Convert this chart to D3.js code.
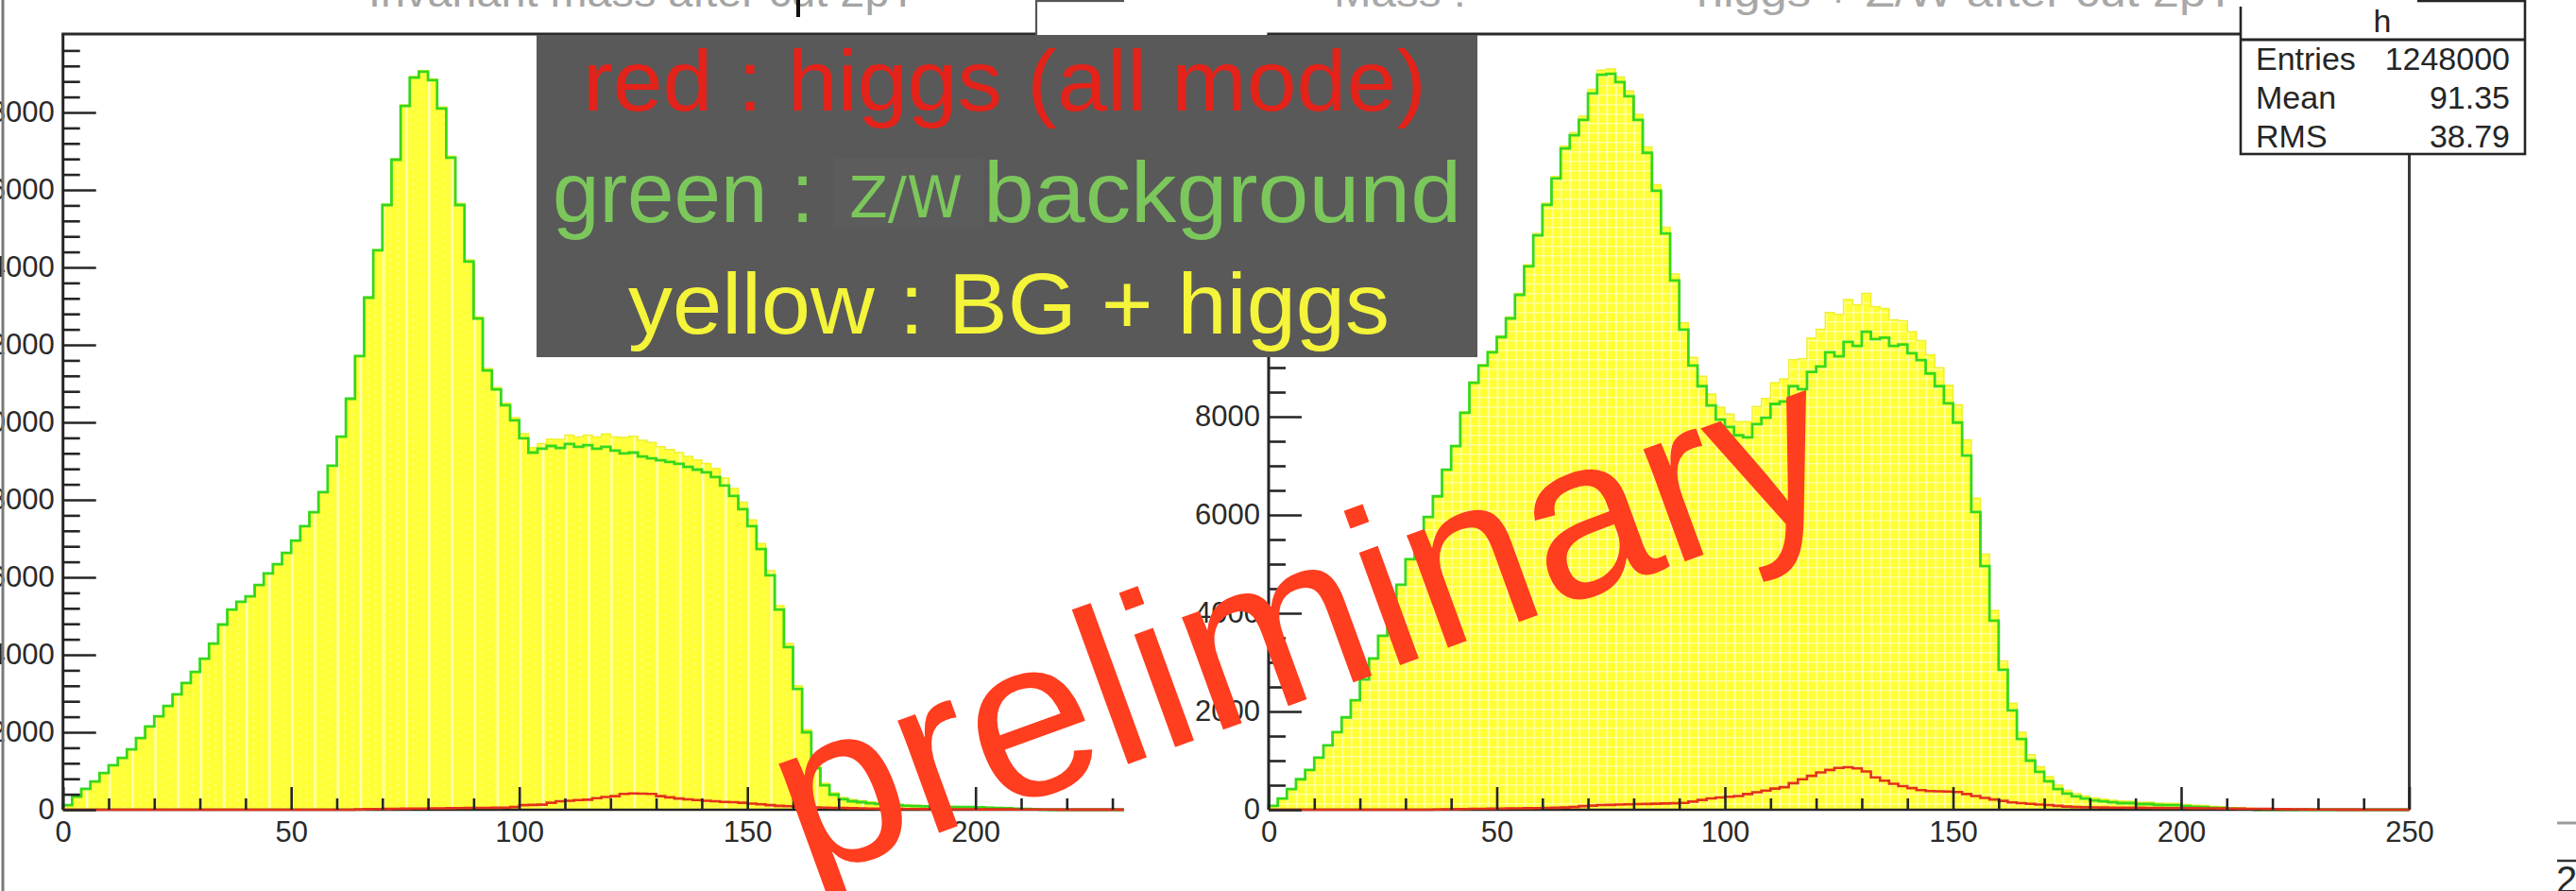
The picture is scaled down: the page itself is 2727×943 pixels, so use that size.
<!DOCTYPE html>
<html>
<head>
<meta charset="utf-8">
<script src="https://cdn.jsdelivr.net/npm/d3@7"></script>
<style>
  html, body { margin: 0; padding: 0; background: #fff; overflow: hidden; }
  svg { display: block; }
</style>
</head>
<body>
<svg id="chart" width="2727" height="943"></svg>
<script>
// ---- histogram contents: counts per 2-unit bin, bins start at 0 ----
const binWidth = 2;

// left pad: Z/W background and higgs (all modes)
const leftBackground = [
  120, 340, 540, 730, 950, 1150, 1340, 1560, 1850, 2150,
  2410, 2680, 2980, 3270, 3560, 3900, 4290, 4780, 5170, 5370,
  5510, 5800, 6100, 6340, 6630, 6950, 7320, 7680, 8200, 8880,
  9630, 10610, 11710, 13220, 14440, 15610, 16780, 18170, 18900, 19050,
  18830, 18100, 16830, 15610, 14150, 12680, 11340, 10850, 10440, 10050,
  9590, 9220, 9320, 9390, 9340, 9440, 9370, 9410, 9320, 9370,
  9270, 9200, 9220, 9120, 9070, 9020, 8980, 8930, 8850, 8780,
  8710, 8590, 8370, 8100, 7760, 7320, 6730, 6050, 5170, 4200,
  3120, 2000, 1070, 630, 390, 270, 220, 195, 170, 150,
  145, 120, 100, 95, 90, 75, 72, 70, 68, 70,
  66, 50, 45, 42, 25, 20, 10, 5, 0, 0,
  0, 0, 0, 0, 0, 0, 0, 0, 0, 0,
  0, 0, 0, 0, 0
];
const leftHiggs = [
  0, 0, 0, 0, 0, 0, 0, 0, 0, 0,
  0, 0, 0, 0, 0, 0, 0, 0, 0, 0,
  0, 0, 0, 0, 0, 0, 0, 0, 0, 0,
  0, 0, 10, 15, 20, 22, 25, 28, 30, 32,
  35, 38, 40, 42, 45, 48, 50, 52, 55, 70,
  120, 125, 130, 180, 220, 230, 250, 260, 300, 330,
  350, 410, 420, 415, 410, 350, 320, 290, 270, 250,
  230, 220, 200, 195, 180, 160, 140, 120, 100, 90,
  80, 70, 60, 55, 50, 45, 40, 35, 30, 28,
  25, 22, 20, 18, 16, 15, 14, 13, 12, 11,
  10, 9, 8, 8, 7, 6, 6, 5, 5, 4,
  4, 3, 3, 2, 2, 2, 1, 1, 1, 1,
  1, 1, 0, 0, 0
];

// right pad: Z/W background and higgs (all modes)
const rightBackground = [
  80, 230, 420, 620, 810, 1060, 1310, 1580, 1880, 2230,
  2650, 3080, 3540, 4040, 4580, 5100, 5540, 5960, 6380, 6920,
  7400, 8080, 8690, 9040, 9310, 9620, 10000, 10480, 11060, 11690,
  12310, 12850, 13460, 13730, 14040, 14580, 14960, 14980, 14810, 14520,
  14040, 13370, 12600, 11730, 10770, 9770, 9040, 8620, 8230, 7940,
  7790, 7620, 7580, 7850, 7980, 8260, 8310, 8620, 8560, 8910,
  9020, 9310, 9230, 9520, 9440, 9730, 9580, 9610, 9440, 9470,
  9290, 9150, 8880, 8620, 8270, 7880, 7210, 6060, 4960, 3850,
  2850, 2020, 1440, 1000, 770, 580, 420, 330, 270, 230,
  190, 170, 150, 135, 135, 115, 115, 100, 95, 95,
  75, 60, 55, 40, 35, 20, 15, 10, 0, 0,
  0, 0, 0, 0, 0, 0, 0, 0, 0, 0,
  0, 0, 0, 0, 0
];
const rightHiggs = [
  0, 0, 0, 0, 0, 0, 0, 0, 0, 0,
  0, 0, 0, 0, 0, 0, 0, 0, 5, 10,
  12, 15, 18, 20, 22, 25, 28, 30, 32, 35,
  38, 40, 45, 55, 75, 85, 95, 98, 105, 110,
  115, 118, 122, 128, 132, 140, 165, 200, 230, 250,
  265, 280, 320, 355, 390, 430, 460, 540, 620, 690,
  760, 810, 850, 865, 840, 780, 660, 590, 530, 480,
  440, 400, 380, 375, 370, 360, 320, 280, 240, 210,
  180, 150, 135, 120, 105, 95, 80, 65, 55, 50,
  48, 45, 44, 42, 40, 40, 38, 36, 35, 34,
  33, 32, 30, 28, 26, 24, 22, 20, 18, 16,
  14, 12, 10, 8, 6, 5, 4, 3, 2, 2,
  1, 1, 1, 0, 0
];

// ---- axis ticks and labels ----
const xMajorTicks = [0, 50, 100, 150, 200, 250];
const xMinorTicks = [10, 20, 30, 40, 60, 70, 80, 90, 110, 120, 130, 140, 160, 170, 180, 190, 210, 220, 230, 240];
const leftYMajorTicks = [0, 2000, 4000, 6000, 8000, 10000, 12000, 14000, 16000, 18000];
const rightYMajorTicks = [0, 2000, 4000, 6000, 8000, 10000, 12000, 14000];

const legendLines = [
  { text: "red : higgs (all mode)", color: "#e3231a" },
  { text: "green :", color: "#7cc75b" },
  { text: "Z/W", color: "#7cc75b" },
  { text: "background", color: "#7cc75b" },
  { text: "yellow : BG + higgs", color: "#f4f43a" }
];
const statsName = "h";
const statsRows = [["Entries", "1248000"], ["Mean", "91.35"], ["RMS", "38.79"]];
const watermark = "preliminary";

// ---- drawing ----
const FONT = "'Liberation Sans', Arial, Helvetica, sans-serif";
const INK = "#252525";
const svg = d3.select("#chart");
svg.append("rect").attr("width", 2727).attr("height", 943).attr("fill", "#fff");

const defs = svg.append("defs");
// ROOT-like yellow fill textures
const pL = defs.append("pattern").attr("id", "fillLeft").attr("patternUnits", "userSpaceOnUse")
  .attr("x", 66.7).attr("y", 0).attr("width", 24.15).attr("height", 8);
pL.append("rect").attr("width", 24.15).attr("height", 8).attr("fill", "#ffff38");
pL.append("rect").attr("x", 0).attr("width", 2.6).attr("height", 8).attr("fill", "#ffffb4");
pL.append("rect").attr("x", 8).attr("y", 2).attr("width", 1.6).attr("height", 1.6).attr("fill", "#ffff96");
pL.append("rect").attr("x", 16).attr("y", 6).attr("width", 1.6).attr("height", 1.6).attr("fill", "#ffff96");

const pR = defs.append("pattern").attr("id", "fillRight").attr("patternUnits", "userSpaceOnUse")
  .attr("x", 1343).attr("y", 0).attr("width", 9.66).attr("height", 10);
pR.append("rect").attr("width", 9.66).attr("height", 10).attr("fill", "#ffff34");
pR.append("rect").attr("x", 0).attr("width", 1.7).attr("height", 10).attr("fill", "#ffffa6");
pR.append("rect").attr("y", 0).attr("width", 9.66).attr("height", 1.5).attr("fill", "#ffff9c");

function stepPoints(vals) {
  const pts = [[0, 0]];
  vals.forEach((v, i) => pts.push([i * binWidth, v]));
  const end = vals.length * binWidth;
  pts.push([end, vals[vals.length - 1]]);
  pts.push([end, 0]);
  return pts;
}

function drawPad(g, opt) {
  const { x, y, bg, higgs, fillId, yMajor, yMinor, frameRight, topY } = opt;
  const total = bg.map((v, i) => v + (higgs[i] || 0));

  const area = d3.area().curve(d3.curveStepAfter)
    .x(d => x(d[0])).y0(y(0)).y1(d => y(d[1]));
  const line = d3.line().curve(d3.curveStepAfter)
    .x(d => x(d[0])).y(d => y(d[1]));

  g.append("path").attr("d", area(stepPoints(total))).attr("fill", `url(#${fillId})`);
  g.append("path").attr("d", line(stepPoints(total))).attr("fill", "none")
    .attr("stroke", "#f0f030").attr("stroke-width", 1.5);
  g.append("path").attr("d", line(stepPoints(bg))).attr("fill", "none")
    .attr("stroke", "#36d81c").attr("stroke-width", 2.8).attr("stroke-linejoin", "miter");

  // axis base lines and frame
  g.append("line").attr("x1", x(0)).attr("x2", x(250)).attr("y1", y(0)).attr("y2", y(0))
    .attr("stroke", INK).attr("stroke-width", 2.5);
  g.append("line").attr("x1", x(0)).attr("x2", x(0)).attr("y1", topY).attr("y2", y(0))
    .attr("stroke", INK).attr("stroke-width", 3);
  g.append("line").attr("x1", x(0) - 1.5).attr("x2", frameRight).attr("y1", topY).attr("y2", topY)
    .attr("stroke", "#2a2a2a").attr("stroke-width", 3);
  if (opt.drawRight) {
    g.append("line").attr("x1", x(250)).attr("x2", x(250)).attr("y1", topY).attr("y2", y(0))
      .attr("stroke", "#3a3a3a").attr("stroke-width", 3);
  }

  g.append("path").attr("d", line(stepPoints(higgs))).attr("fill", "none")
    .attr("stroke", "#e3321a").attr("stroke-width", 2.6);

  const styleAxis = sel => {
    sel.select(".domain").remove();
    sel.selectAll(".tick line").attr("stroke", INK).attr("stroke-width", 2.6);
    sel.selectAll(".tick text").attr("fill", "#2a2a2a").attr("font-size", 31).attr("font-family", FONT);
  };

  g.append("g").attr("transform", `translate(0,${y(0)})`)
    .call(d3.axisBottom(x).tickValues(xMinorTicks).tickSize(-12).tickSizeOuter(0).tickFormat(""))
    .call(styleAxis);
  g.append("g").attr("transform", `translate(0,${y(0)})`)
    .call(d3.axisBottom(x).tickValues(xMajorTicks).tickSize(-24).tickSizeOuter(0).tickPadding(12).tickFormat(d3.format("d")))
    .call(styleAxis);
  g.append("g").attr("transform", `translate(${x(0)},0)`)
    .call(d3.axisLeft(y).tickValues(yMinor).tickSize(-18).tickSizeOuter(0).tickFormat(""))
    .call(styleAxis);
  g.append("g").attr("transform", `translate(${x(0)},0)`)
    .call(d3.axisLeft(y).tickValues(yMajor).tickSize(-35).tickSizeOuter(0).tickPadding(9).tickFormat(d3.format("d")))
    .call(styleAxis);
}

// ---- left pad ----
const left = svg.append("g");
left.append("text").attr("x", 390).attr("y", 7).attr("textLength", 580)
  .attr("lengthAdjust", "spacingAndGlyphs")
  .attr("font-family", FONT).attr("font-size", 44).attr("fill", "#a4a4a4")
  .text("Invariant mass after cut 2pT");
// shadow edge of the title box
left.append("line").attr("x1", 845).attr("x2", 845).attr("y1", 0).attr("y2", 18)
  .attr("stroke", "#111").attr("stroke-width", 4);
const xL = d3.scaleLinear().domain([0, 250]).range([66.7, 66.7 + 250 * 4.83]);
const yL = d3.scaleLinear().domain([0, 20000]).range([857, 37]);
drawPad(left, {
  x: xL, y: yL, bg: leftBackground, higgs: leftHiggs, fillId: "fillLeft",
  yMajor: leftYMajorTicks,
  yMinor: d3.range(400, 20000, 400).filter(v => v % 2000),
  frameRight: 1190, topY: 36, drawRight: false
});
// left stats box corner peeking above the frame
left.append("rect").attr("x", 1097).attr("y", 1).attr("width", 200).attr("height", 160)
  .attr("fill", "#fff").attr("stroke", "#555").attr("stroke-width", 2.2);
// neighbouring pad edge on the far left
left.append("line").attr("x1", 3).attr("x2", 3).attr("y1", 0).attr("y2", 943)
  .attr("stroke", "#7a7a7a").attr("stroke-width", 3);

// ---- right pad ----
const right = svg.append("g");
right.append("rect").attr("x", 1190).attr("y", 0).attr("width", 2727 - 1190).attr("height", 943).attr("fill", "#fff");
const xR = d3.scaleLinear().domain([0, 250]).range([1343, 1343 + 250 * 4.83]);
const yR = d3.scaleLinear().domain([0, 15800]).range([857, 857 - 15800 * 0.052]);
drawPad(right, {
  x: xR, y: yR, bg: rightBackground, higgs: rightHiggs, fillId: "fillRight",
  yMajor: rightYMajorTicks,
  yMinor: d3.range(500, 15800, 500).filter(v => v % 2000),
  frameRight: xR(250), topY: 36, drawRight: true
});

// stats box
const sb = right.append("g");
sb.append("rect").attr("x", 2372).attr("y", 1).attr("width", 301).attr("height", 162)
  .attr("fill", "#fff").attr("stroke", INK).attr("stroke-width", 2.6);
sb.append("line").attr("x1", 2372).attr("x2", 2673).attr("y1", 42).attr("y2", 42)
  .attr("stroke", INK).attr("stroke-width", 3.2);
sb.append("text").attr("x", 2522).attr("y", 34).attr("text-anchor", "middle")
  .attr("font-family", FONT).attr("font-size", 34).attr("fill", INK).text(statsName);
statsRows.forEach((r, i) => {
  const yy = 74 + i * 41;
  sb.append("text").attr("x", 2388).attr("y", yy).attr("font-family", FONT)
    .attr("font-size", 34).attr("fill", INK).text(r[0]);
  sb.append("text").attr("x", 2657).attr("y", yy).attr("text-anchor", "end").attr("font-family", FONT)
    .attr("font-size", 34).attr("fill", INK).text(r[1]);
});
// title strip along the top edge
right.append("rect").attr("x", 1400).attr("y", -2).attr("width", 1159).attr("height", 9).attr("fill", "#fff");
right.append("text").attr("x", 1412).attr("y", 7).attr("textLength", 140).attr("lengthAdjust", "spacingAndGlyphs")
  .attr("font-family", FONT).attr("font-size", 44).attr("fill", "#a8a8a8").text("Mass :");
right.append("text").attr("x", 1796).attr("y", 7).attr("textLength", 570).attr("lengthAdjust", "spacingAndGlyphs")
  .attr("font-family", FONT).attr("font-size", 44).attr("fill", "#a8a8a8").text("higgs + Z/W after cut 2pT");

// fragment of the next pad on the far right
right.append("line").attr("x1", 2707).attr("x2", 2727).attr("y1", 871).attr("y2", 871)
  .attr("stroke", "#9a9a9a").attr("stroke-width", 3);
right.append("line").attr("x1", 2707).attr("x2", 2727).attr("y1", 911).attr("y2", 911)
  .attr("stroke", "#333").attr("stroke-width", 2.5);
right.append("text").attr("x", 2706).attr("y", 945).attr("font-family", FONT)
  .attr("font-size", 40).attr("fill", "#2a2a2a").text("2");

// ---- legend box ----
const lg = svg.append("g");
lg.append("rect").attr("x", 568).attr("y", 37).attr("width", 996).attr("height", 341).attr("fill", "#595959");
lg.append("rect").attr("x", 882).attr("y", 168).attr("width", 159).attr("height", 74).attr("fill", "#5c5c5c");
const legendLayout = [
  { x: 617, y: 117, w: 893, size: 90 },
  { x: 585, y: 235, w: 277, size: 90 },
  { x: 899, y: 230, w: 120, size: 60, narrow: true },
  { x: 1041, y: 235, w: 506, size: 90 },
  { x: 665, y: 353, w: 806, size: 90 }
];
legendLines.forEach((d, i) => {
  const L = legendLayout[i];
  lg.append("text").attr("x", L.x).attr("y", L.y)
    .attr("textLength", L.w).attr("lengthAdjust", "spacingAndGlyphs")
    .attr("font-family", L.narrow ? "'Liberation Sans Narrow', 'DejaVu Sans', sans-serif" : FONT)
    .attr("font-stretch", L.narrow ? "condensed" : "normal")
    .attr("font-size", L.size).attr("fill", d.color).text(d.text);
});

// ---- watermark ----
svg.append("text")
  .attr("transform", "translate(853,933) rotate(-20)")
  .attr("font-family", FONT).attr("font-size", 240).attr("fill", "#ff3d1f")
  .text(watermark);
</script>
</body>
</html>
